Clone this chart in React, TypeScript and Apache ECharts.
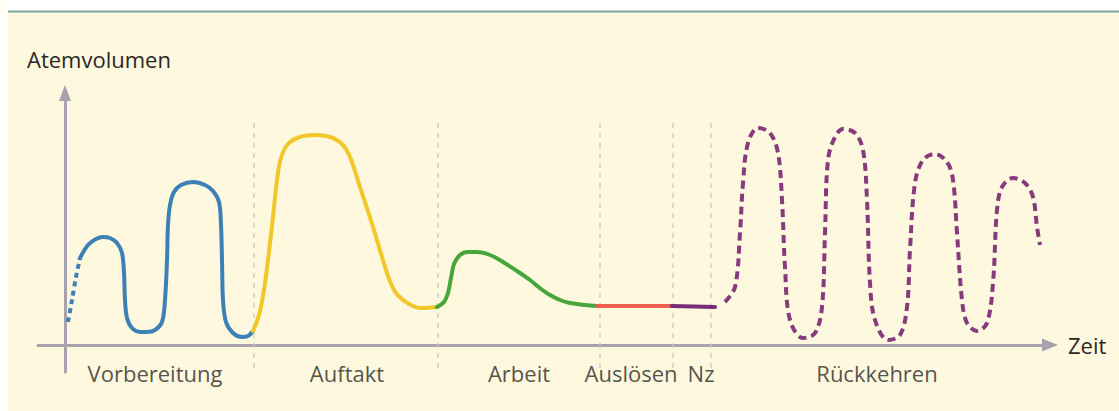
import React, { useEffect, useRef } from "react";
import * as echarts from "echarts";

// x = time (px units from y-axis), y = breath volume
const blueDashed: number[][] = [[3, 23], [7, 45], [11, 68], [15, 87]];
const blueSolid: number[][] = [
  [15, 87], [23, 100], [31, 106], [38, 108], [45, 107], [52, 102], [57, 92], [59, 72],
  [60, 45], [62, 27], [67, 17], [75, 13], [82, 13], [90, 15], [97, 23], [100, 45],
  [102, 85], [103, 120], [105, 140], [109, 153], [116, 160], [128, 163], [140, 160],
  [148, 154], [154, 143], [156, 120], [157, 85], [158, 45], [161, 23], [168, 12],
  [177, 8], [183, 9], [188, 14],
];
const yellow: number[][] = [
  [188, 14], [194, 30], [199, 55], [203, 85], [208, 128], [212, 165], [216, 187],
  [223, 201], [235, 208], [250, 210], [265, 208], [277, 201], [285, 188], [295, 158],
  [308, 118], [322, 72], [329, 55], [338, 45], [355, 37], [372, 38],
];
const green: number[][] = [
  [372, 38], [379, 43], [383, 52], [386, 67], [389, 81], [395, 90], [403, 93], [412, 93],
  [425, 90], [438, 83], [452, 74], [465, 65], [476, 56], [485, 50], [495, 45], [505, 42],
  [520, 40], [532, 39],
];
const red: number[][] = [[532, 39], [607, 39]];
const purpleSolid: number[][] = [[607, 39], [650, 38]];
const purpleDashed: number[][] = [
  [660, 43], [670, 58], [675, 112], [678, 162], [683, 202], [693, 217], [705, 212],
  [713, 192], [717, 145], [720, 78], [725, 25], [738, 7], [750, 12], [757, 38], [760, 112],
  [763, 185], [770, 208], [778, 216], [790, 212], [798, 195], [802, 145], [805, 62],
  [810, 25], [823, 5], [835, 10], [842, 38], [845, 95], [850, 162], [858, 185], [870, 191],
  [882, 183], [888, 165], [892, 112], [897, 45], [902, 22], [912, 14], [922, 22], [928, 62],
  [932, 135], [937, 158], [948, 167], [960, 162], [968, 148], [972, 118], [975, 100],
];
const phaseBounds: number[] = [189, 373, 535, 608, 646];
const boundTop = 227;
const boundBottom = -23;
const phaseNames: string[] = ["Vorbereitung", "Auftakt", "Arbeit", "Auslösen", "Nz", "Rückkehren"];
const phaseLabelX: number[] = [90, 282, 454, 566, 636, 812];
const phaseLabelY = -27;

const FONT = "'Open Sans', 'Noto Sans', sans-serif";
const TEXT = "#2b2724";
const AXIS = "#a8a1ae";

export default function App() {
  const ref = useRef<HTMLDivElement>(null);
  useEffect(() => {
    document.body.style.margin = "0";
    const chart = echarts.init(ref.current!, undefined, { renderer: "svg" });
    const curve = (data: number[][], color: string, dashed: number[] | null, smooth: number | boolean) => ({
      type: "line",
      data,
      smooth,
      symbol: "none",
      silent: true,
      z: 3,
      lineStyle: {
        color,
        width: 4,
        type: dashed ? dashed : "solid",
        cap: dashed ? "butt" : "round",
        join: "round",
      },
    });
    chart.setOption({
      animation: false,
      backgroundColor: "#fefdf6",
      textStyle: { fontFamily: FONT },
      grid: { left: 38, right: 69, top: 93, bottom: 39 },
      xAxis: {
        type: "value",
        min: -27,
        max: 985,
        axisLine: {
          show: true,
          onZero: true,
          symbol: ["none", "triangle"],
          symbolSize: [13, 16],
          lineStyle: { color: AXIS, width: 3 },
        },
        axisTick: { show: false },
        axisLabel: { show: false },
        splitLine: { show: false },
        name: "Zeit",
        nameLocation: "end",
        nameGap: 18,
        nameTextStyle: { color: TEXT, fontSize: 22, fontFamily: FONT, verticalAlign: "middle" },
      },
      yAxis: {
        type: "value",
        min: -27,
        max: 252,
        axisLine: {
          show: true,
          onZero: true,
          symbol: ["none", "triangle"],
          symbolSize: [12, 16],
          lineStyle: { color: AXIS, width: 3 },
        },
        axisTick: { show: false },
        axisLabel: { show: false },
        splitLine: { show: false },
      },
      graphic: [
        { type: "rect", z: -10, shape: { x: 8, y: 12, width: 1111, height: 399 }, style: { fill: "#fdf8de" } },
        { type: "rect", z: -10, shape: { x: 8, y: 0, width: 1111, height: 11 }, style: { fill: "#ffffff" } },
        { type: "line", z: -9, shape: { x1: 8, y1: 11.5, x2: 1119, y2: 11.5 }, style: { stroke: "#79a79c", lineWidth: 2 } },
        {
          type: "text",
          left: 27,
          top: 48,
          style: { text: "Atemvolumen", fill: TEXT, font: `22px ${FONT}` },
        },
      ],
      series: [
        ...phaseBounds.map((x) => ({
          type: "line",
          data: [[x, boundBottom], [x, boundTop]],
          symbol: "none",
          silent: true,
          z: 1,
          lineStyle: { color: "#cbc6be", width: 1.2, type: [5, 5] },
        })),
        curve(blueDashed, "#3d80b6", [5, 4], 0.3),
        curve(blueSolid, "#3d80b6", null, 0.35),
        curve(yellow, "#f2c72a", null, 0.35),
        curve(green, "#47a63b", null, 0.35),
        curve(red, "#ee5d4f", null, false),
        curve(purpleSolid, "#772c77", null, false),
        curve(purpleDashed, "#873a7c", [8, 5], 0.35),
        {
          type: "scatter",
          symbolSize: 0,
          silent: true,
          data: phaseNames.map((n, i) => ({ name: n, value: [phaseLabelX[i], phaseLabelY] })),
          label: {
            show: true,
            position: "inside",
            formatter: "{b}",
            color: TEXT,
            fontSize: 22,
            fontFamily: FONT,
            offset: [0, 1],
          },
        },
      ],
    });
    return () => chart.dispose();
  }, []);
  return <div ref={ref} style={{ width: 1119, height: 411 }} />;
}
